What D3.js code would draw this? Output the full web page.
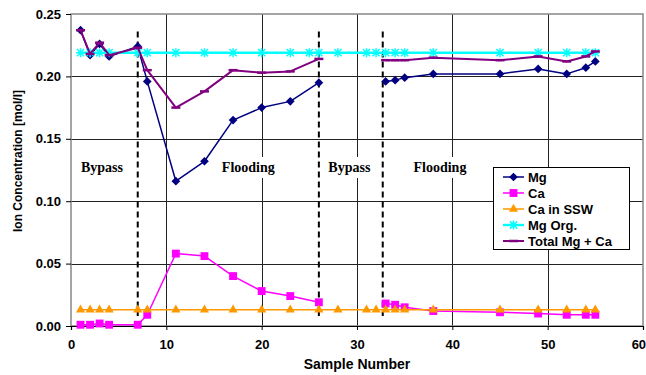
<!DOCTYPE html>
<html>
<head>
<meta charset="utf-8">
<script src="https://cdn.jsdelivr.net/npm/d3@7"></script>
<style>
  body { margin: 0; background: #fff; }
  svg { display: block; }
  text { font-family: "Liberation Sans", Arial, sans-serif; font-weight: bold; }
</style>
</head>
<body>
<div id="chart"></div>
<script>
// sample numbers where Mg / Ca were measured (28 left empty -> gap in the lines)
const samplesIon = [1, 2, 3, 4, 7, 8, 11, 14, 17, 20, 23, 26, 28, 33, 34, 35, 38, 45, 49, 52, 54, 55];
const mg = [0.237, 0.217, 0.226, 0.216, 0.224, 0.196, 0.116, 0.132, 0.165, 0.175, 0.180, 0.195, null,
            0.196, 0.197, 0.199, 0.202, 0.202, 0.206, 0.202, 0.207, 0.212];
const ca = [0.001, 0.001, 0.002, 0.001, 0.001, 0.009, 0.058, 0.056, 0.040, 0.028, 0.024, 0.019, null,
            0.018, 0.017, 0.015, 0.012, 0.011, 0.010, 0.009, 0.009, 0.009];
const total = [0.237, 0.218, 0.227, 0.217, 0.223, 0.205, 0.175, 0.188, 0.205, 0.203, 0.204, 0.214, null,
               0.213, 0.213, 0.213, 0.215, 0.213, 0.216, 0.212, 0.216, 0.220];

// reference levels
const samplesSSW = [1, 2, 3, 4, 7, 8, 11, 14, 17, 20, 23, 26, 28, 31, 32, 33, 34, 35, 38, 45, 49, 52, 54, 55];
const caSSW = [0.013, 0.013, 0.013, 0.013, 0.013, 0.013, 0.013, 0.013, 0.013, 0.013, 0.013, 0.013,
               0.013, 0.013, 0.013, 0.013, 0.013, 0.013, 0.013, 0.013, 0.013, 0.013, 0.013, 0.013];
const samplesOrg = [1, 2, 3, 4, 7, 8, 11, 14, 17, 20, 23, 25, 26, 28, 31, 32, 33, 34, 35, 38, 45, 49, 52, 54, 55];
const mgOrg = [0.219, 0.219, 0.219, 0.219, 0.219, 0.219, 0.219, 0.219, 0.219, 0.219, 0.219, 0.219, 0.219,
               0.219, 0.219, 0.219, 0.219, 0.219, 0.219, 0.219, 0.219, 0.219, 0.219, 0.219, 0.219];

// phase boundaries and labels
const dividers = [7, 26, 32.7];
const phaseNames = ["Bypass", "Flooding", "Bypass", "Flooding"];
const phaseX = [3.25, 18.6, 29.2, 38.7];

const xTicks = [0, 10, 20, 30, 40, 50, 60];
const yTicks = [0, 0.05, 0.10, 0.15, 0.20, 0.25];

const W = 646, H = 375;
const margin = { top: 14, right: 3, bottom: 49, left: 71 };
const width = W - margin.left - margin.right;
const height = H - margin.top - margin.bottom;

const svg = d3.select("#chart").append("svg")
    .attr("width", W).attr("height", H);
const g = svg.append("g").attr("transform", `translate(${margin.left},${margin.top})`);

const x = d3.scaleLinear().domain([0, 60]).range([0, width]);
const y = d3.scaleLinear().domain([0, 0.25]).range([height, 0]);

// grid
g.append("g").selectAll("line").data(yTicks.slice(1, -1)).enter().append("line")
    .attr("x1", 0).attr("x2", width)
    .attr("y1", d => Math.round(y(d)) + 0.5).attr("y2", d => Math.round(y(d)) + 0.5)
    .attr("stroke", "#222").attr("stroke-width", 1);
g.append("g").selectAll("line").data(xTicks.slice(1, -1)).enter().append("line")
    .attr("x1", d => Math.round(x(d)) + 0.5).attr("x2", d => Math.round(x(d)) + 0.5)
    .attr("y1", 0).attr("y2", height)
    .attr("stroke", "#222").attr("stroke-width", 1);

// frame
g.append("rect").attr("x", 0).attr("y", 0).attr("width", width).attr("height", height)
    .attr("fill", "none").attr("stroke", "#888").attr("stroke-width", 1.5);

// phase dividers
g.append("g").selectAll("line").data(dividers).enter().append("line")
    .attr("x1", d => x(d)).attr("x2", d => x(d))
    .attr("y1", y(0.236)).attr("y2", y(0.008))
    .attr("stroke", "#000").attr("stroke-width", 2).attr("stroke-dasharray", "6,4");

// phase labels with white box
const labels = g.append("g").selectAll("g").data(phaseNames).enter().append("g");
labels.append("text")
    .attr("x", (d, i) => x(phaseX[i])).attr("y", y(0.1234))
    .attr("text-anchor", "middle")
    .style("font-family", "'Liberation Serif', 'Times New Roman', serif")
    .style("font-size", "14px")
    .text(d => d);
labels.each(function () {
    const t = d3.select(this).select("text");
    const b = t.node().getBBox();
    d3.select(this).insert("rect", "text")
        .attr("x", b.x - 3).attr("y", y(0.1234) - 15).attr("width", b.width + 6).attr("height", 21)
        .attr("fill", "#fff");
});

// axes
const xAxis = g.append("g").attr("transform", `translate(0,${height})`)
    .call(d3.axisBottom(x).tickValues(xTicks).tickSize(4).tickPadding(10).tickFormat(d3.format("d")));
const yAxis = g.append("g")
    .call(d3.axisLeft(y).tickValues(yTicks).tickSize(5).tickPadding(5).tickFormat(d3.format(".2f")));
xAxis.select(".domain").attr("stroke", "#000").attr("stroke-width", 1.2);
yAxis.select(".domain").remove();
[xAxis, yAxis].forEach(a => {
    a.selectAll("text").style("font-size", "13px").attr("fill", "#000");
    a.selectAll(".tick line").attr("stroke", "#000");
});
// last x label sits at the right edge; keep it inside the picture
xAxis.selectAll(".tick text").filter(d => d === 60)
    .attr("text-anchor", "end").attr("dx", "0.2em");

// axis titles
svg.append("text")
    .attr("x", margin.left + x(30)).attr("y", 369)
    .attr("text-anchor", "middle").style("font-size", "14px")
    .text("Sample Number");
svg.append("text")
    .attr("transform", "translate(22,161) rotate(-90)")
    .attr("text-anchor", "middle").style("font-size", "12px")
    .text("Ion Concentration [mol/l]");

// series
const diamond = d3.symbol().type(d3.symbolSquare).size(38);
const square = d3.symbol().type(d3.symbolSquare).size(62);
const triangle = d3.symbol().type(d3.symbolTriangle).size(36);
const star = "M0,-4.5V4.5M-3.6,-3.6L3.6,3.6M-3.6,3.6L3.6,-3.6M-4.5,0H4.5";
const dash = "M-4.5,0H4.5";

const series = [
    { name: "Mg", xs: samplesIon, ys: mg, color: "#000080", width: 1.5, marker: "diamond" },
    { name: "Ca", xs: samplesIon, ys: ca, color: "#FF00FF", width: 1.5, marker: "square" },
    { name: "Ca in SSW", xs: samplesSSW, ys: caSSW, color: "#FF9900", width: 1.5, marker: "triangle" },
    { name: "Mg Org.", xs: samplesOrg, ys: mgOrg, color: "#00FFFF", width: 2.4, marker: "star" },
    { name: "Total Mg + Ca", xs: samplesIon, ys: total, color: "#800080", width: 2, marker: "dash" }
];

function drawMarker(sel, s) {
    if (s.marker === "diamond") {
        sel.append("path").attr("d", diamond()).attr("transform", "rotate(45)").attr("fill", s.color);
    } else if (s.marker === "square") {
        sel.append("path").attr("d", square()).attr("fill", s.color);
    } else if (s.marker === "triangle") {
        sel.append("path").attr("d", triangle()).attr("fill", s.color);
    } else if (s.marker === "star") {
        sel.append("path").attr("d", star).attr("stroke", s.color).attr("stroke-width", 1.5).attr("fill", "none");
    } else {
        sel.append("path").attr("d", dash).attr("stroke", s.color).attr("stroke-width", 2.5).attr("fill", "none");
    }
}

const line = d3.line().defined(d => d.v != null).x(d => x(d.x)).y(d => y(d.v));

series.forEach(s => {
    const pts = s.xs.map((xv, i) => ({ x: xv, v: s.ys[i] }));
    g.append("path").datum(pts)
        .attr("d", line)
        .attr("fill", "none").attr("stroke", s.color).attr("stroke-width", s.width)
        .attr("stroke-linejoin", "round");
    g.append("g").selectAll("g").data(pts.filter(d => d.v != null)).enter().append("g")
        .attr("transform", d => `translate(${x(d.x)},${y(d.v)})`)
        .each(function () { drawMarker(d3.select(this), s); });
});

// legend
const legend = svg.append("g").attr("transform", "translate(493,167)");
legend.append("rect").attr("x", 0.5).attr("y", 0.5).attr("width", 136).attr("height", 82)
    .attr("fill", "#fff").attr("stroke", "#000").attr("stroke-width", 1);
const rows = legend.selectAll("g.row").data(series).enter().append("g")
    .attr("class", "row")
    .attr("transform", (d, i) => `translate(0,${10 + i * 16})`);
rows.append("line").attr("x1", 10).attr("x2", 31).attr("y1", 0).attr("y2", 0)
    .attr("stroke", d => d.color).attr("stroke-width", d => d.width);
rows.append("g").attr("transform", "translate(20.5,0)")
    .each(function (d) { drawMarker(d3.select(this), d); });
rows.append("text").attr("x", 35).attr("y", 5)
    .style("font-size", "13px").text(d => d.name);
</script>
</body>
</html>
